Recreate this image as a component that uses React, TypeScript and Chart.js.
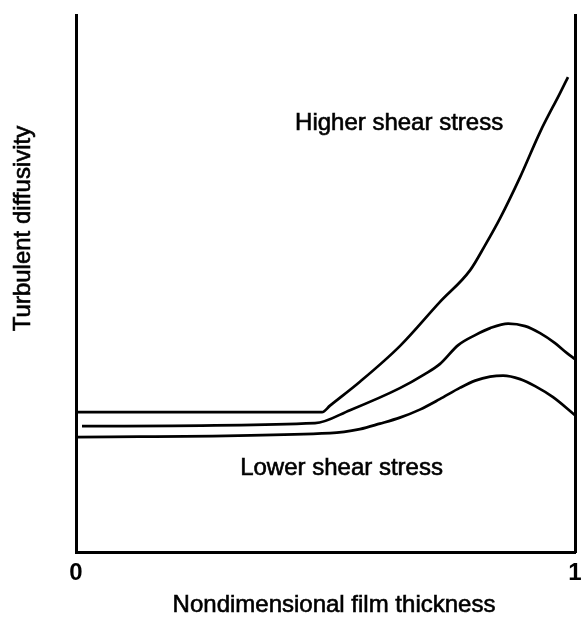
import React, { useEffect, useRef } from 'react';
import { Chart, registerables } from 'chart.js';

Chart.register(...registerables);

// ---- Data (x: nondimensional film thickness, y: arbitrary diffusivity units) ----
const xTickLabels = ['0', '1'];
const xAxisTitle = 'Nondimensional film thickness';
const yAxisTitle = 'Turbulent diffusivity';

const higherX = [0.004, 0.493, 0.509, 0.569, 0.649, 0.729, 0.79, 0.82, 0.85, 0.89, 0.93, 0.97, 0.986];
const higherY = [2.607, 2.607, 2.728, 3.173, 3.836, 4.655, 5.251, 5.717, 6.22, 6.983, 7.821, 8.547, 8.845];

const middleX = [0.012, 0.479, 0.549, 0.649, 0.699, 0.729, 0.766, 0.8, 0.83, 0.866, 0.9, 0.93, 0.96, 0.984, 1.0];
const middleY = [2.346, 2.402, 2.644, 3.054, 3.315, 3.501, 3.855, 4.041, 4.171, 4.255, 4.209, 4.078, 3.892, 3.706, 3.594];

const lowerX = [0.0, 0.509, 0.569, 0.609, 0.649, 0.689, 0.729, 0.77, 0.8, 0.83, 0.856, 0.89, 0.92, 0.956, 1.0];
const lowerY = [2.142, 2.216, 2.291, 2.393, 2.505, 2.654, 2.849, 3.063, 3.194, 3.268, 3.287, 3.222, 3.091, 2.886, 2.551];

const noteTexts = ['Higher shear stress', 'Lower shear stress'];
const noteX = [0.439, 0.329];
const noteY = [7.86, 1.434];

const FONT = '"Liberation Sans", Arial, Helvetica, sans-serif';

const toPoints = (xs: number[], ys: number[]) => xs.map((x, i) => ({ x, y: ys[i] }));

const drawText = (ctx: CanvasRenderingContext2D, t: string, x: number, y: number) => {
  ctx.fillText(t, x, y);
  ctx.strokeText(t, x, y);
};

const textPlugin = {
  id: 'textPlugin',
  afterDraw(chart: any) {
    const { ctx, scales } = chart;
    const xs = scales.x;
    const ys = scales.y;
    ctx.save();
    ctx.fillStyle = '#000';
    ctx.strokeStyle = '#000';
    ctx.lineWidth = 0.6;
    ctx.font = `24px ${FONT}`;
    ctx.textBaseline = 'alphabetic';
    ctx.textAlign = 'left';
    noteTexts.forEach((t, i) => {
      drawText(ctx, t, xs.getPixelForValue(noteX[i]), ys.getPixelForValue(noteY[i]));
    });
    // x axis title
    ctx.textAlign = 'center';
    drawText(ctx, xAxisTitle, 334, 612);
    // y axis title
    ctx.translate(30, 228.5);
    ctx.rotate(-Math.PI / 2);
    ctx.textAlign = 'center';
    drawText(ctx, yAxisTitle, 0, 0);
    ctx.restore();
  },
};

export default function App() {
  const canvasRef = useRef<HTMLCanvasElement | null>(null);

  useEffect(() => {
    if (!canvasRef.current) return;
    const lineStyle = {
      borderColor: '#000',
      borderWidth: 2.7,
      pointRadius: 0,
      fill: false,
      cubicInterpolationMode: 'monotone' as const,
    };
    const chart = new Chart(canvasRef.current, {
      type: 'line',
      data: {
        datasets: [
          { label: 'Higher shear stress', data: toPoints(higherX, higherY), ...lineStyle },
          { label: 'Intermediate', data: toPoints(middleX, middleY), ...lineStyle },
          { label: 'Lower shear stress', data: toPoints(lowerX, lowerY), ...lineStyle },
        ],
      },
      options: {
        animation: false,
        responsive: false,
        maintainAspectRatio: false,
        layout: { padding: { left: 76, top: 15, right: 6, bottom: 23 } },
        plugins: { legend: { display: false }, tooltip: { enabled: false } },
        scales: {
          x: {
            type: 'linear',
            min: 0,
            max: 1,
            afterBuildTicks: (scale: any) => {
              scale.ticks = xTickLabels.map((l) => ({ value: Number(l) }));
            },
            afterFit: (scale: any) => {
              scale.paddingLeft = 0;
              scale.paddingRight = 0;
            },
            ticks: {
              color: '#000',
              padding: 7,
              maxRotation: 0,
              font: { family: FONT, size: 24, weight: 'bold' },
              callback: (v: any) => String(v),
            },
            grid: { display: false, drawTicks: false },
            border: { display: true, color: '#000', width: 3 },
          },
          y: {
            type: 'linear',
            position: 'left',
            min: 0,
            max: 10,
            ticks: { display: false },
            grid: { display: false, drawTicks: false },
            border: { display: true, color: '#000', width: 3 },
          },
          y2: {
            type: 'linear',
            position: 'right',
            min: 0,
            max: 10,
            ticks: { display: false },
            grid: { display: false, drawTicks: false },
            border: { display: true, color: '#000', width: 3 },
          },
        },
      },
      plugins: [textPlugin],
    });
    return () => chart.destroy();
  }, []);

  return (
    <div style={{ position: 'fixed', left: 0, top: 0, width: 581, height: 618, background: '#fff' }}>
      <canvas ref={canvasRef} width={581} height={618} style={{ width: 581, height: 618 }} />
    </div>
  );
}
